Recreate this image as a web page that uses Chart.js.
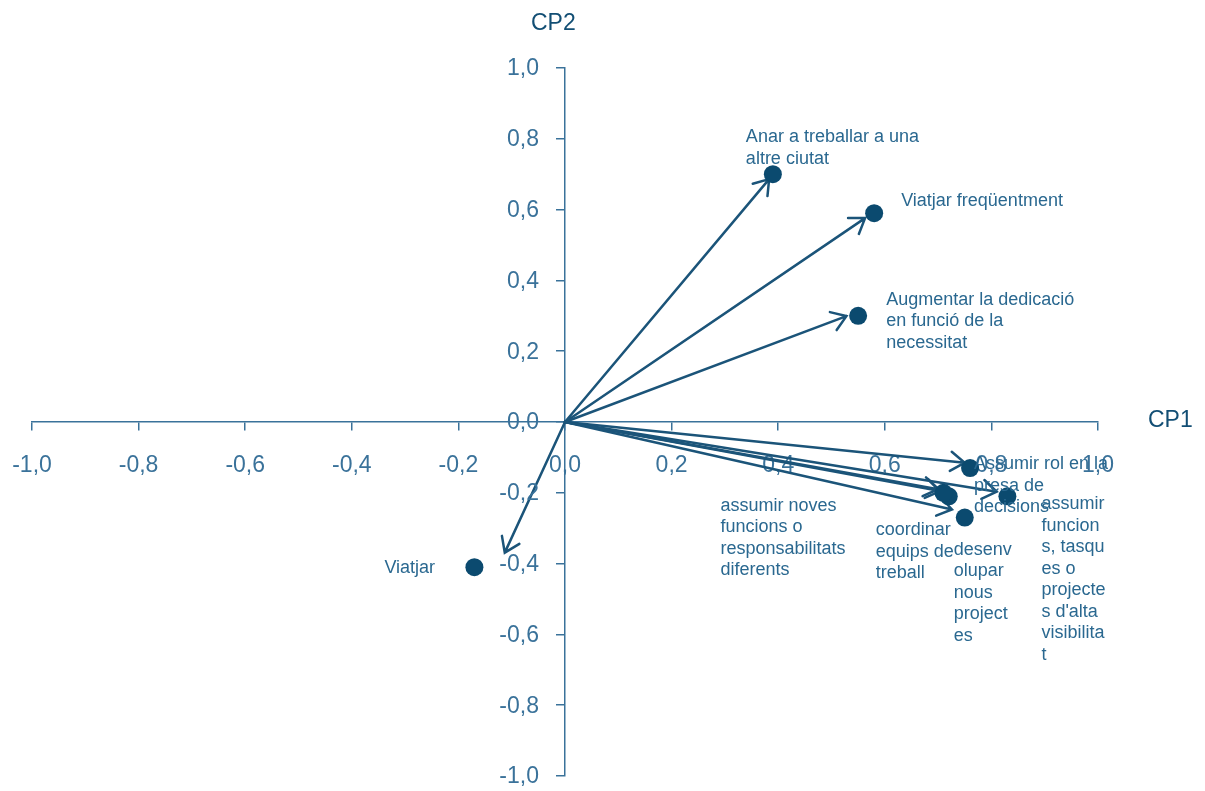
<!DOCTYPE html>
<html>
<head>
<meta charset="utf-8">
<script src="https://cdn.jsdelivr.net/npm/chart.js@4.4.1/dist/chart.umd.min.js"></script>
<style>
	html, body { margin: 0; padding: 0; background: #fff; }
</style>
</head>
<body>
<canvas id="chart" width="1205" height="791"></canvas>
<script>
// Variables (etiquetes tal com surten al gràfic, amb els salts de línia)
const varLabels = [
	'Anar a treballar a una\naltre ciutat',
	'Viatjar freqüentment',
	'Augmentar la dedicació\nen funció de la\nnecessitat',
	'Viatjar',
	'Assumir rol en la\npresa de\ndecisions',
	'assumir\nfuncion\ns, tasqu\nes o\nprojecte\ns d\'alta\nvisibilita\nt',
	'coordinar\nequips de\ntreball',
	'desenv\nolupar\nnous\nproject\nes',
	'assumir noves\nfuncions o\nresponsabilitats\ndiferents'
];
// Coordenades dels punts
const cp1 = [0.39, 0.58, 0.55, -0.17, 0.76, 0.83, 0.72, 0.75, 0.71];
const cp2 = [0.70, 0.59, 0.30, -0.41, -0.13, -0.21, -0.21, -0.27, -0.20];
// Punta de cada fletxa (surt de l'origen)
const tipCp1 = [0.383, 0.563, 0.528, -0.113, 0.750, 0.81, 0.704, 0.726, 0.70];
const tipCp2 = [0.686, 0.576, 0.299, -0.369, -0.115, -0.197, -0.195, -0.247, -0.19];
const axisMin = -1, axisMax = 1, axisStep = 0.2;
const axisTitleX = 'CP1';
const axisTitleY = 'CP2';

// Posició de les etiquetes respecte al punt (px)
const labelOffset = [[-27, -32], [27, -7], [28, -11], [-90, 6], [4, 1], [34, 13], [-73, 39], [-11, 37], [-223, 18]];

const FONT = '"Liberation Sans", Arial, sans-serif';
const dotColor = '#0b4a6f';
const arrowColor = '#1b5479';
const axisColor = '#3a729a';
const tickColor = '#3a729a';
const textColor = '#2a6890';
const titleColor = '#124e74';

const points = cp1.map((x, i) => ({ x: x, y: cp2[i] }));

function fmt(v) {
	return Number(v).toFixed(1).replace('.', ',');
}

const biplotPlugin = {
	id: 'biplot',
	beforeDatasetsDraw(chart) {
		const ctx = chart.ctx;
		const xs = chart.scales.x, ys = chart.scales.y;
		const ox = xs.getPixelForValue(0), oy = ys.getPixelForValue(0);
		ctx.save();
		ctx.strokeStyle = arrowColor;
		ctx.lineWidth = 2.5;
		ctx.lineCap = 'round';
		tipCp1.forEach((tx, i) => {
			const px = xs.getPixelForValue(tx);
			const py = ys.getPixelForValue(tipCp2[i]);
			const ang = Math.atan2(py - oy, px - ox);
			ctx.beginPath();
			ctx.moveTo(ox, oy);
			ctx.lineTo(px, py);
			const len = 17, spread = 0.6;
			ctx.moveTo(px - len * Math.cos(ang - spread), py - len * Math.sin(ang - spread));
			ctx.lineTo(px, py);
			ctx.lineTo(px - len * Math.cos(ang + spread), py - len * Math.sin(ang + spread));
			ctx.stroke();
		});

		// Etiquetes de l'eix vertical (a l'esquerra de l'eix)
		ctx.fillStyle = tickColor;
		ctx.font = '23px ' + FONT;
		ctx.textAlign = 'right';
		ctx.textBaseline = 'middle';
		ys.ticks.forEach(t => {
			ctx.fillText(fmt(t.value), ox - 26, ys.getPixelForValue(t.value) + 1);
		});
		ctx.restore();
	},
	afterDatasetsDraw(chart) {
		const ctx = chart.ctx;
		const xs = chart.scales.x, ys = chart.scales.y;
		ctx.save();
		ctx.fillStyle = textColor;
		ctx.font = '18px ' + FONT;
		ctx.textAlign = 'left';
		ctx.textBaseline = 'alphabetic';
		varLabels.forEach((txt, i) => {
			const px = xs.getPixelForValue(cp1[i]) + labelOffset[i][0];
			const py = ys.getPixelForValue(cp2[i]) + labelOffset[i][1];
			txt.split('\n').forEach((line, j) => {
				ctx.fillText(line, px, py + j * 21.5);
			});
		});

		// Títols dels eixos
		ctx.fillStyle = titleColor;
		ctx.font = '23px ' + FONT;
		ctx.fillText(axisTitleY, xs.getPixelForValue(0) - 34, chart.chartArea.top - 38);
		ctx.fillText(axisTitleX, chart.chartArea.right + 50, ys.getPixelForValue(0) + 5);
		ctx.restore();
	}
};

const ctx = document.getElementById('chart').getContext('2d');
new Chart(ctx, {
	type: 'scatter',
	data: {
		datasets: [{
			data: points,
			backgroundColor: dotColor,
			borderWidth: 0,
			pointRadius: 9,
			pointHoverRadius: 9
		}]
	},
	options: {
		responsive: false,
		devicePixelRatio: 1,
		animation: false,
		layout: { padding: { left: 32, right: 107, top: 68, bottom: 15 } },
		plugins: {
			legend: { display: false },
			tooltip: { enabled: false }
		},
		scales: {
			x: {
				type: 'linear',
				position: { y: 0 },
				min: axisMin,
				max: axisMax,
				ticks: {
					stepSize: axisStep,
					padding: 22,
					color: tickColor,
					font: { family: FONT, size: 23 },
					callback: fmt,
					maxRotation: 0,
					autoSkip: false
				},
				grid: { drawOnChartArea: false, drawTicks: true, tickLength: 8, color: axisColor, lineWidth: 1.5 },
				border: { display: true, color: axisColor, width: 1.5 },
				afterFit(s) { s.height = 0; s.paddingLeft = 0; s.paddingRight = 0; }
			},
			y: {
				type: 'linear',
				position: { x: 0 },
				min: axisMin,
				max: axisMax,
				ticks: {
					display: false,
					stepSize: axisStep
				},
				grid: { drawOnChartArea: false, drawTicks: true, tickLength: 8, color: axisColor, lineWidth: 1.5 },
				border: { display: true, color: axisColor, width: 1.5 },
				afterFit(s) { s.width = 0; s.paddingTop = 0; s.paddingBottom = 0; }
			}
		}
	},
	plugins: [biplotPlugin]
});
</script>
</body>
</html>
